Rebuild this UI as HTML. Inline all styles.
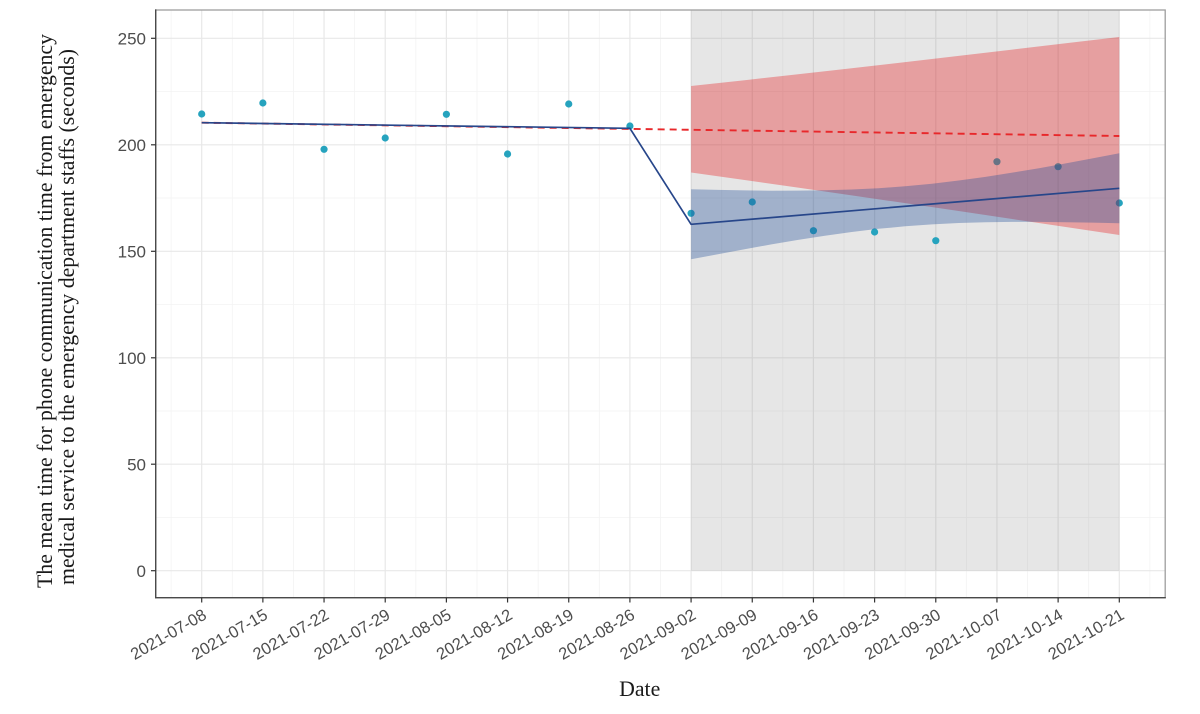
<!DOCTYPE html>
<html>
<head>
<meta charset="utf-8">
<style>
  html,body{margin:0;padding:0;background:#fff;}
  svg{display:block;}
  .tx{font-family:"Liberation Sans",Arial,sans-serif;font-size:16.5px;fill:#4d4d4d;}
  .ty{font-family:"Liberation Sans",Arial,sans-serif;font-size:17px;fill:#4d4d4d;}
  .ti{font-family:"Liberation Serif","Times New Roman",serif;font-size:21.8px;fill:#1a1a1a;}
</style>
</head>
<body>
<svg width="1200" height="714" viewBox="0 0 1200 714" xmlns="http://www.w3.org/2000/svg">
  <rect x="0" y="0" width="1200" height="714" fill="#fff"/>
  <!-- minor grid -->
  <g stroke="#f3f3f3" stroke-width="0.8">
    <line x1="156" x2="1165" y1="517.5" y2="517.5"/>
    <line x1="156" x2="1165" y1="411" y2="411"/>
    <line x1="156" x2="1165" y1="304.5" y2="304.5"/>
    <line x1="156" x2="1165" y1="198" y2="198"/>
    <line x1="156" x2="1165" y1="91.5" y2="91.5"/>
    <line y1="10" y2="597.7" x1="171.11" x2="171.11"/>
    <line y1="10" y2="597.7" x1="232.29" x2="232.29"/>
    <line y1="10" y2="597.7" x1="293.46" x2="293.46"/>
    <line y1="10" y2="597.7" x1="354.63" x2="354.63"/>
    <line y1="10" y2="597.7" x1="415.8" x2="415.8"/>
    <line y1="10" y2="597.7" x1="476.98" x2="476.98"/>
    <line y1="10" y2="597.7" x1="538.15" x2="538.15"/>
    <line y1="10" y2="597.7" x1="599.32" x2="599.32"/>
    <line y1="10" y2="597.7" x1="660.5" x2="660.5"/>
    <line y1="10" y2="597.7" x1="721.67" x2="721.67"/>
    <line y1="10" y2="597.7" x1="782.84" x2="782.84"/>
    <line y1="10" y2="597.7" x1="844.02" x2="844.02"/>
    <line y1="10" y2="597.7" x1="905.19" x2="905.19"/>
    <line y1="10" y2="597.7" x1="966.36" x2="966.36"/>
    <line y1="10" y2="597.7" x1="1027.54" x2="1027.54"/>
    <line y1="10" y2="597.7" x1="1088.71" x2="1088.71"/>
    <line y1="10" y2="597.7" x1="1149.88" x2="1149.88"/>
  </g>
  <!-- major grid -->
  <g stroke="#e8e8e8" stroke-width="1.2">
    <line x1="156" x2="1165" y1="570.7" y2="570.7"/>
    <line x1="156" x2="1165" y1="464.2" y2="464.2"/>
    <line x1="156" x2="1165" y1="357.8" y2="357.8"/>
    <line x1="156" x2="1165" y1="251.3" y2="251.3"/>
    <line x1="156" x2="1165" y1="144.8" y2="144.8"/>
    <line x1="156" x2="1165" y1="38.3" y2="38.3"/>
    <line y1="10" y2="597.7" x1="201.7" x2="201.7"/>
    <line y1="10" y2="597.7" x1="262.87" x2="262.87"/>
    <line y1="10" y2="597.7" x1="324.05" x2="324.05"/>
    <line y1="10" y2="597.7" x1="385.22" x2="385.22"/>
    <line y1="10" y2="597.7" x1="446.39" x2="446.39"/>
    <line y1="10" y2="597.7" x1="507.57" x2="507.57"/>
    <line y1="10" y2="597.7" x1="568.74" x2="568.74"/>
    <line y1="10" y2="597.7" x1="629.91" x2="629.91"/>
    <line y1="10" y2="597.7" x1="691.08" x2="691.08"/>
    <line y1="10" y2="597.7" x1="752.26" x2="752.26"/>
    <line y1="10" y2="597.7" x1="813.43" x2="813.43"/>
    <line y1="10" y2="597.7" x1="874.6" x2="874.6"/>
    <line y1="10" y2="597.7" x1="935.78" x2="935.78"/>
    <line y1="10" y2="597.7" x1="996.95" x2="996.95"/>
    <line y1="10" y2="597.7" x1="1058.12" x2="1058.12"/>
    <line y1="10" y2="597.7" x1="1119.3" x2="1119.3"/>
  </g>
  <!-- intervention shaded region -->
  <rect x="691.1" y="10" width="428.2" height="560.7" fill="#808080" fill-opacity="0.2"/>

  <!-- points -->
  <g fill="#26a3be">
    <circle cx="201.7" cy="114" r="3.6"/>
    <circle cx="262.87" cy="103" r="3.6"/>
    <circle cx="324.05" cy="149.3" r="3.6"/>
    <circle cx="385.22" cy="138" r="3.6"/>
    <circle cx="446.39" cy="114.3" r="3.6"/>
    <circle cx="507.57" cy="154" r="3.6"/>
    <circle cx="568.74" cy="104" r="3.6"/>
    <circle cx="629.91" cy="126" r="3.6"/>
    <circle cx="691.08" cy="213.3" r="3.6"/>
    <circle cx="752.26" cy="202" r="3.6"/>
    <circle cx="813.43" cy="230.7" r="3.6"/>
    <circle cx="874.6" cy="232" r="3.6"/>
    <circle cx="935.78" cy="240.7" r="3.6"/>
    <circle cx="996.95" cy="161.7" r="3.6"/>
    <circle cx="1058.12" cy="166.7" r="3.6"/>
    <circle cx="1119.3" cy="203" r="3.6"/>
  </g>

  <!-- counterfactual ribbon (red) -->
  <polygon fill="#e41a1c" fill-opacity="0.35" points="691.1,85.96 744.6,80.2 798.15,74.29 851.7,68.24 905.2,62.09 958.7,55.88 1012.25,49.6 1065.8,43.29 1119.3,36.95 1119.3,235.03 1065.8,227.01 1012.25,219.02 958.7,211.06 905.2,203.17 851.7,195.34 798.15,187.59 744.6,180.0 691.1,172.56"/>
  <!-- fitted ribbon (blue) -->
  <polygon fill="#1f4e99" fill-opacity="0.35" points="691.1,189.3 717.9,189.9 744.6,190.4 771.4,190.7 798.15,190.68 824.9,190.3 851.7,189.55 878.5,188.2 905.2,186.3 932,183.7 958.7,180.55 985.5,176.9 1012.25,172.68 1039,168.2 1065.8,163.4 1092.5,158.4 1119.3,153.3 1119.3,223.3 1092.5,222.6 1065.8,222.2 1039,221.9 1012.25,221.92 985.5,222.3 958.7,223.05 932,224.4 905.2,226.3 878.5,228.8 851.7,232.05 824.9,235.7 798.15,239.92 771.4,244.4 744.6,249.2 717.9,254.2 691.1,259.3"/>

  <!-- counterfactual dashed line -->
  <line x1="201.7" y1="122.7" x2="1119.3" y2="136" stroke="#e8282b" stroke-width="1.9" stroke-dasharray="7 5"/>
  <!-- fitted segmented line -->
  <polyline fill="none" stroke="#27468a" stroke-width="1.7" stroke-linejoin="round" points="201.7,122.7 629.91,128.3 691.08,224.3 1119.3,188.3"/>

  <!-- panel border -->
  <rect x="155.7" y="10" width="1009.5" height="587.7" fill="none" stroke="#9e9e9e" stroke-width="1.3"/>
  <line x1="155.7" y1="9.4" x2="155.7" y2="598.3" stroke="#4a4a4a" stroke-width="1.4"/>
  <line x1="155" y1="597.7" x2="1165.8" y2="597.7" stroke="#4a4a4a" stroke-width="1.4"/>

  <!-- y ticks -->
  <g stroke="#333" stroke-width="1.2">
    <line x1="151" x2="155.7" y1="570.7" y2="570.7"/>
    <line x1="151" x2="155.7" y1="464.2" y2="464.2"/>
    <line x1="151" x2="155.7" y1="357.8" y2="357.8"/>
    <line x1="151" x2="155.7" y1="251.3" y2="251.3"/>
    <line x1="151" x2="155.7" y1="144.8" y2="144.8"/>
    <line x1="151" x2="155.7" y1="38.3" y2="38.3"/>
  </g>
  <g class="ty" text-anchor="end">
    <text x="146" y="576.8">0</text>
    <text x="146" y="470.3">50</text>
    <text x="146" y="363.9">100</text>
    <text x="146" y="257.4">150</text>
    <text x="146" y="150.9">200</text>
    <text x="146" y="44.4">250</text>
  </g>

  <!-- x ticks -->
  <g stroke="#333" stroke-width="1.2">
    <line y1="597.7" y2="602.5" x1="201.7" x2="201.7"/>
    <line y1="597.7" y2="602.5" x1="262.87" x2="262.87"/>
    <line y1="597.7" y2="602.5" x1="324.05" x2="324.05"/>
    <line y1="597.7" y2="602.5" x1="385.22" x2="385.22"/>
    <line y1="597.7" y2="602.5" x1="446.39" x2="446.39"/>
    <line y1="597.7" y2="602.5" x1="507.57" x2="507.57"/>
    <line y1="597.7" y2="602.5" x1="568.74" x2="568.74"/>
    <line y1="597.7" y2="602.5" x1="629.91" x2="629.91"/>
    <line y1="597.7" y2="602.5" x1="691.08" x2="691.08"/>
    <line y1="597.7" y2="602.5" x1="752.26" x2="752.26"/>
    <line y1="597.7" y2="602.5" x1="813.43" x2="813.43"/>
    <line y1="597.7" y2="602.5" x1="874.6" x2="874.6"/>
    <line y1="597.7" y2="602.5" x1="935.78" x2="935.78"/>
    <line y1="597.7" y2="602.5" x1="996.95" x2="996.95"/>
    <line y1="597.7" y2="602.5" x1="1058.12" x2="1058.12"/>
    <line y1="597.7" y2="602.5" x1="1119.3" x2="1119.3"/>
  </g>
  <g class="tx" text-anchor="end">
    <text transform="translate(207.7,618) rotate(-30)">2021-07-08</text>
    <text transform="translate(268.87,618) rotate(-30)">2021-07-15</text>
    <text transform="translate(330.05,618) rotate(-30)">2021-07-22</text>
    <text transform="translate(391.22,618) rotate(-30)">2021-07-29</text>
    <text transform="translate(452.39,618) rotate(-30)">2021-08-05</text>
    <text transform="translate(513.57,618) rotate(-30)">2021-08-12</text>
    <text transform="translate(574.74,618) rotate(-30)">2021-08-19</text>
    <text transform="translate(635.91,618) rotate(-30)">2021-08-26</text>
    <text transform="translate(697.08,618) rotate(-30)">2021-09-02</text>
    <text transform="translate(758.26,618) rotate(-30)">2021-09-09</text>
    <text transform="translate(819.43,618) rotate(-30)">2021-09-16</text>
    <text transform="translate(880.6,618) rotate(-30)">2021-09-23</text>
    <text transform="translate(941.78,618) rotate(-30)">2021-09-30</text>
    <text transform="translate(1002.95,618) rotate(-30)">2021-10-07</text>
    <text transform="translate(1064.12,618) rotate(-30)">2021-10-14</text>
    <text transform="translate(1125.3,618) rotate(-30)">2021-10-21</text>
  </g>

  <!-- axis titles -->
  <text class="ti" x="639.7" y="696" text-anchor="middle">Date</text>
  <text class="ti" text-anchor="middle" transform="translate(52,311) rotate(-90)">The mean time for phone communication time from emergency</text>
  <text class="ti" text-anchor="middle" transform="translate(74,317) rotate(-90)">medical service to the emergency department staffs (seconds)</text>
</svg>
</body>
</html>
